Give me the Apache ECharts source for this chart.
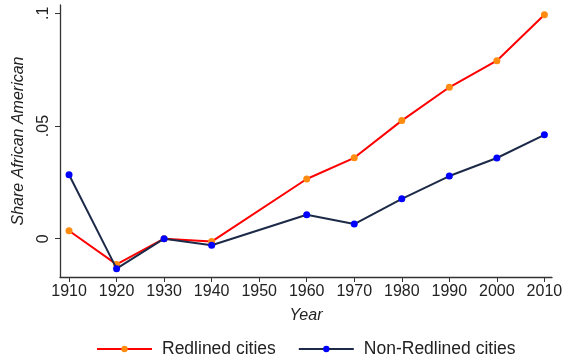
<!DOCTYPE html>
<html>
<head>
<meta charset="utf-8">
<script src="https://cdn.jsdelivr.net/npm/echarts@6/dist/echarts.min.js"></script>
<style>
  html, body { margin: 0; padding: 0; background: #fff; }
  #chart { width: 566px; height: 364px; }
</style>
</head>
<body>
<div id="chart"></div>
<script>
// Census years (1950 has no observation)
const years = [1910, 1920, 1930, 1940, 1960, 1970, 1980, 1990, 2000, 2010];
const redlined = [0.0035, -0.0114, 0.0, -0.0013, 0.0265, 0.0359, 0.0524, 0.0672, 0.079, 0.0994];
const nonRedlined = [0.0284, -0.0133, 0.0, -0.0029, 0.0106, 0.0065, 0.0177, 0.0278, 0.0358, 0.0461];
const xTicks = [1910, 1920, 1930, 1940, 1950, 1960, 1970, 1980, 1990, 2000, 2010];
const yTicks = [0, 0.05, 0.1];
const yTickLabels = ['0', '.05', '.1'];

const font = 'Liberation Sans, Arial, sans-serif';
const axisColor = '#333';

const chart = echarts.init(document.getElementById('chart'), null, { renderer: 'canvas' });

function pairs(xs, ys) { return xs.map((x, i) => [x, ys[i]]); }

chart.setOption({
  animation: false,
  backgroundColor: '#fff',
  grid: { left: 60, right: 14, top: 5, bottom: 87 },
  xAxis: {
    type: 'value',
    min: 1908.1,
    max: 2011.6,
    name: 'Year',
    nameLocation: 'middle',
    nameGap: 31,
    nameTextStyle: { fontFamily: font, fontSize: 16, fontStyle: 'italic', color: '#222' },
    axisLine: { show: true, onZero: false, lineStyle: { color: axisColor, width: 1.3 } },
    axisTick: {
      show: true, length: 5, lineStyle: { color: axisColor },
      customValues: xTicks
    },
    axisLabel: {
      customValues: xTicks,
      fontFamily: font, fontSize: 16, color: '#222', margin: 7,
      formatter: v => String(v)
    },
    splitLine: { show: false }
  },
  yAxis: {
    type: 'value',
    min: -0.017,
    max: 0.1037,
    name: 'Share African American',
    nameLocation: 'middle',
    nameGap: 33,
    nameTextStyle: { fontFamily: font, fontSize: 16, fontStyle: 'italic', color: '#222' },
    axisLine: { show: true, onZero: false, lineStyle: { color: axisColor, width: 1.3 } },
    axisTick: {
      show: true, length: 5, lineStyle: { color: axisColor },
      customValues: yTicks
    },
    axisLabel: {
      customValues: yTicks,
      rotate: 90,
      fontFamily: font, fontSize: 16, color: '#222', margin: 8,
      formatter: v => yTickLabels[yTicks.findIndex(t => Math.abs(t - v) < 1e-9)] || ''
    },
    splitLine: { show: false }
  },
  legend: {
    bottom: 1,
    left: 91,
    itemGap: 22,
    itemWidth: 55,
    itemHeight: 8,
    textStyle: { fontFamily: font, fontSize: 17.5, color: '#222', padding: [0, 0, 0, 5] },
    data: ['Redlined cities', 'Non-Redlined cities']
  },
  series: [
    {
      name: 'Redlined cities',
      type: 'line',
      data: pairs(years, redlined),
      symbol: 'circle',
      symbolSize: 7,
      lineStyle: { color: '#ff0000', width: 2 },
      itemStyle: { color: '#ff8c10' },
      z: 2
    },
    {
      name: 'Non-Redlined cities',
      type: 'line',
      data: pairs(years, nonRedlined),
      symbol: 'circle',
      symbolSize: 7,
      lineStyle: { color: '#1c2a48', width: 2 },
      itemStyle: { color: '#0000ff' },
      z: 3
    }
  ]
});
</script>
</body>
</html>
